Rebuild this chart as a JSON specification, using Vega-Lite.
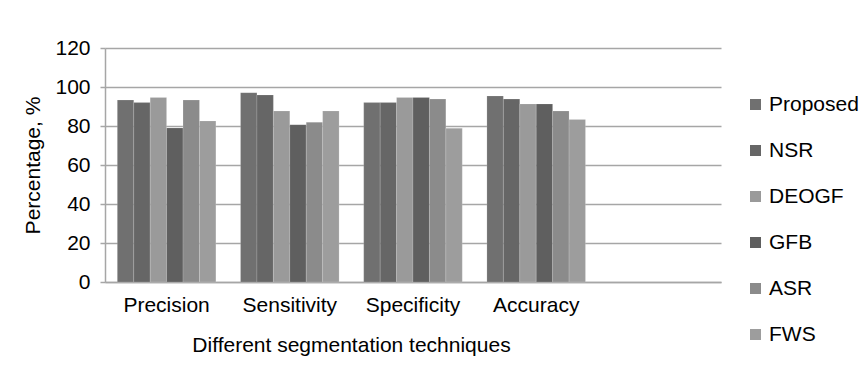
{
  "$schema": "https://vega.github.io/schema/vega-lite/v6.json",
  "width": 616,
  "height": 234,
  "autosize": {"type": "none"},
  "padding": {"left": 105, "top": 48, "right": 139, "bottom": 89},
  "background": "#ffffff",
  "data": {
    "values": [
      {"metric": "Precision", "method": "Proposed", "value": 93.3},
      {"metric": "Precision", "method": "NSR", "value": 92.0},
      {"metric": "Precision", "method": "DEOGF", "value": 94.6},
      {"metric": "Precision", "method": "GFB", "value": 79.0},
      {"metric": "Precision", "method": "ASR", "value": 93.3},
      {"metric": "Precision", "method": "FWS", "value": 82.6},
      {"metric": "Sensitivity", "method": "Proposed", "value": 97.1},
      {"metric": "Sensitivity", "method": "NSR", "value": 95.9},
      {"metric": "Sensitivity", "method": "DEOGF", "value": 87.7},
      {"metric": "Sensitivity", "method": "GFB", "value": 80.7},
      {"metric": "Sensitivity", "method": "ASR", "value": 81.9},
      {"metric": "Sensitivity", "method": "FWS", "value": 87.7},
      {"metric": "Specificity", "method": "Proposed", "value": 92.0},
      {"metric": "Specificity", "method": "NSR", "value": 92.0},
      {"metric": "Specificity", "method": "DEOGF", "value": 94.6},
      {"metric": "Specificity", "method": "GFB", "value": 94.6},
      {"metric": "Specificity", "method": "ASR", "value": 93.8},
      {"metric": "Specificity", "method": "FWS", "value": 78.8},
      {"metric": "Accuracy", "method": "Proposed", "value": 95.4},
      {"metric": "Accuracy", "method": "NSR", "value": 93.8},
      {"metric": "Accuracy", "method": "DEOGF", "value": 91.3},
      {"metric": "Accuracy", "method": "GFB", "value": 91.3},
      {"metric": "Accuracy", "method": "ASR", "value": 87.7},
      {"metric": "Accuracy", "method": "FWS", "value": 83.3}
    ]
  },
  "mark": {"type": "bar", "stroke": "#ffffff", "strokeOpacity": 0.25, "strokeWidth": 0.6},
  "encoding": {
    "x": {
      "field": "metric",
      "type": "nominal",
      "sort": null,
      "scale": {"domain": ["Precision", "Sensitivity", "Specificity", "Accuracy", "_"], "paddingInner": 0.2, "paddingOuter": 0.1},
      "axis": {
        "title": "Different segmentation techniques",
        "titleX": 246,
        "titlePadding": 19,
        "labelExpr": "datum.value == '_' ? '' : datum.value",
        "labelAngle": 0,
        "labelPadding": 12,
        "ticks": false,
        "domainColor": "#a6a6a6",
        "domainWidth": 1.5
      }
    },
    "xOffset": {
      "field": "method",
      "type": "nominal",
      "scale": {"domain": ["Proposed", "NSR", "DEOGF", "GFB", "ASR", "FWS"], "paddingInner": 0, "paddingOuter": 0}
    },
    "y": {
      "field": "value",
      "type": "quantitative",
      "scale": {"domain": [0, 120], "nice": false},
      "axis": {
        "title": "Percentage, %",
        "values": [0, 20, 40, 60, 80, 100, 120],
        "tickSize": 5,
        "tickColor": "#a6a6a6",
        "tickWidth": 1.5,
        "labelPadding": 10,
        "titlePadding": 11,
        "domainColor": "#a6a6a6",
        "domainWidth": 1.5,
        "gridColor": "#a6a6a6",
        "gridWidth": 1.5
      }
    },
    "color": {
      "field": "method",
      "type": "nominal",
      "scale": {
        "domain": ["Proposed", "NSR", "DEOGF", "GFB", "ASR", "FWS"],
        "range": ["#707070", "#666666", "#9a9a9a", "#5f5f5f", "#8b8b8b", "#9d9d9d"]
      },
      "legend": {
        "title": null,
        "orient": "none",
        "legendX": 640,
        "legendY": 46,
        "symbolType": "square",
        "symbolSize": 121,
        "symbolStrokeWidth": 0,
        "labelOffset": 3,
        "rowPadding": 24,
        "padding": 0
      }
    }
  },
  "config": {
    "font": "Liberation Sans",
    "view": {"stroke": null},
    "axis": {
      "labelFont": "Liberation Sans",
      "titleFont": "Liberation Sans",
      "labelFontSize": 21,
      "titleFontSize": 21,
      "titleFontWeight": "normal",
      "labelColor": "#000000",
      "titleColor": "#000000"
    },
    "axisX": {"grid": false},
    "legend": {
      "labelFont": "Liberation Sans",
      "labelFontSize": 21,
      "labelColor": "#000000"
    }
  }
}
